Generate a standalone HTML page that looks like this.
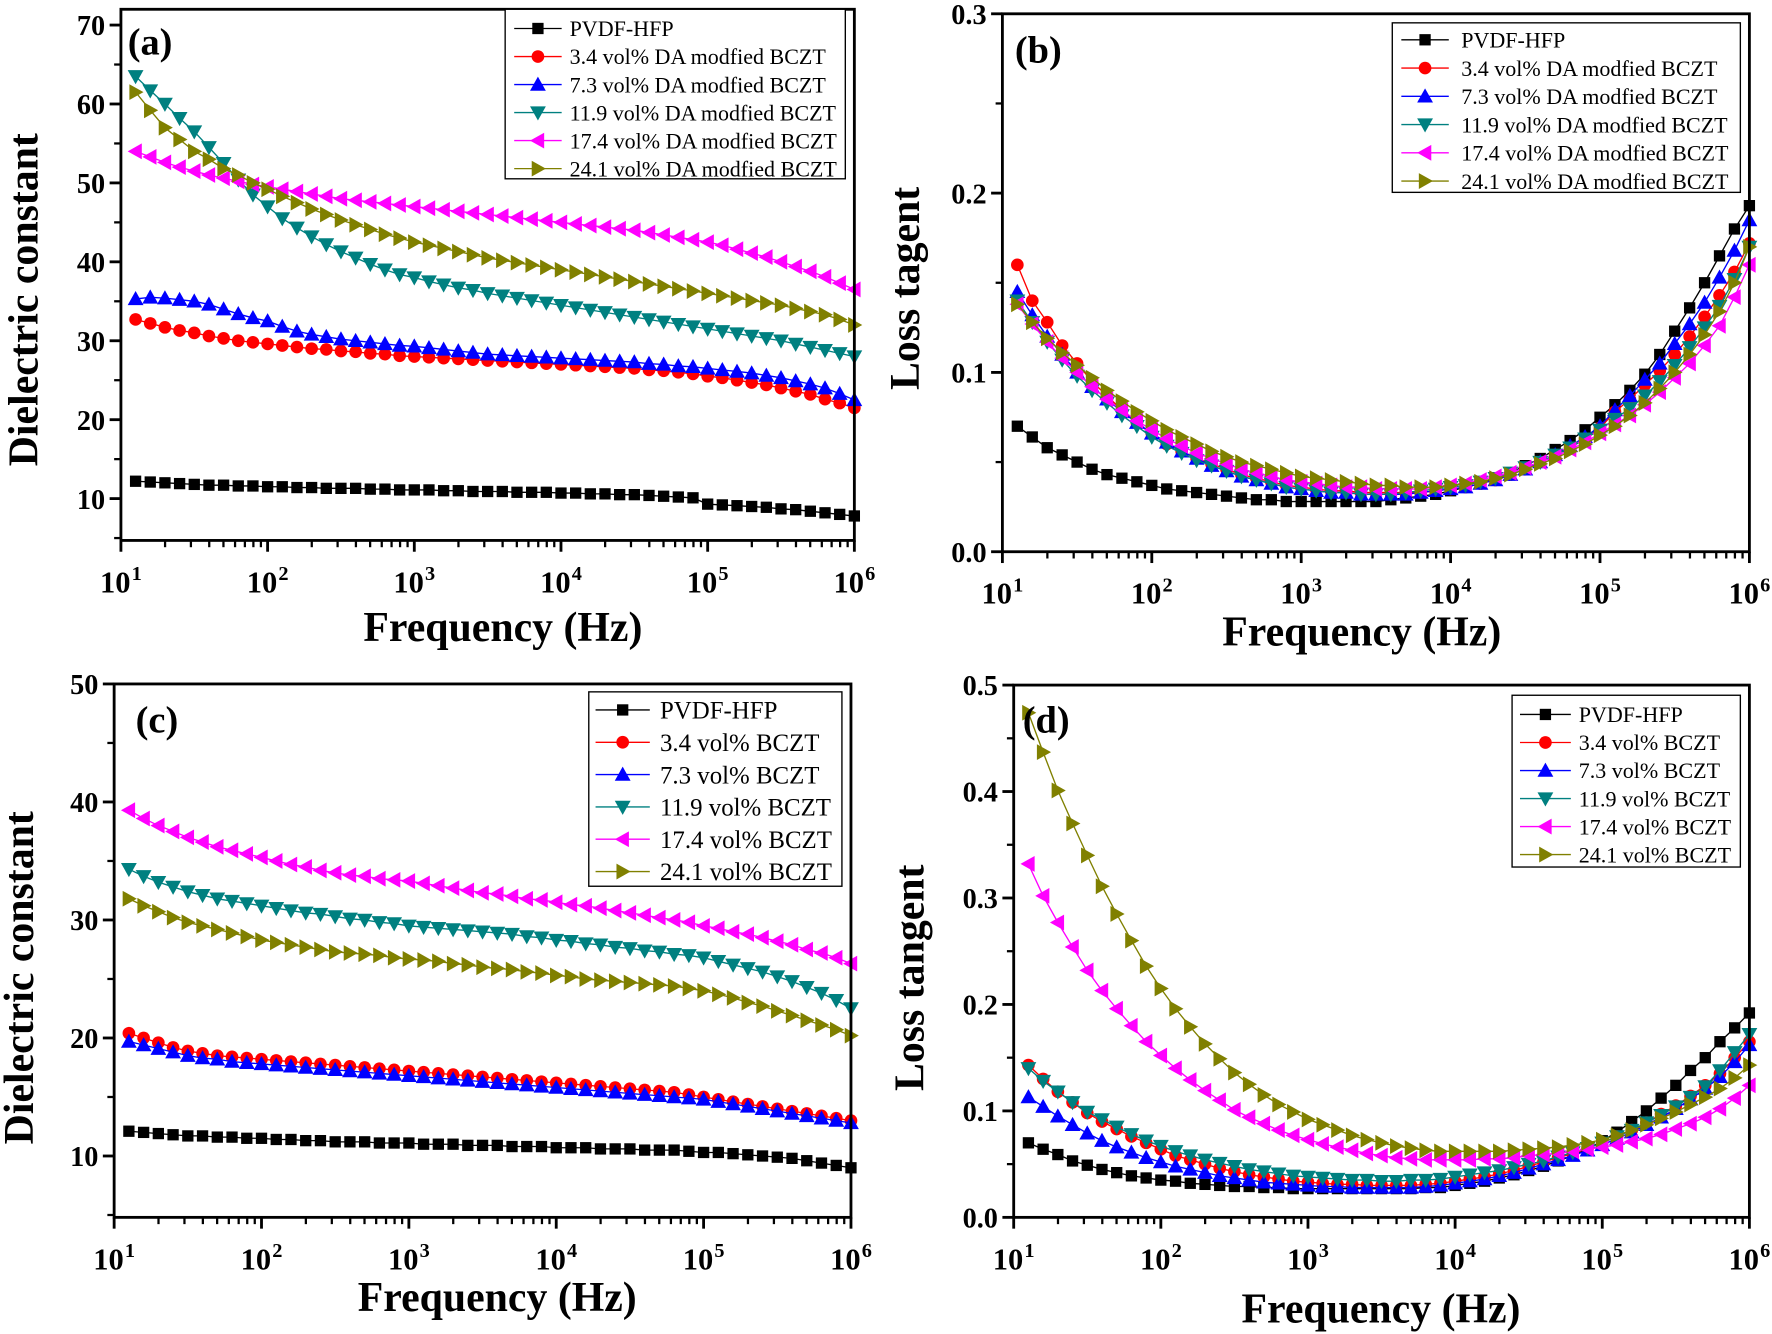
<!DOCTYPE html>
<html><head><meta charset="utf-8"><style>
html,body{margin:0;padding:0;background:#fff;}
svg{display:block;}
text{font-family:"Liberation Serif",serif;}
</style></head><body>
<svg id="fig" width="1772" height="1334" viewBox="0 0 1568 1180" xmlns="http://www.w3.org/2000/svg"></svg>
<script>
const logFreq = [1.1,1.2,1.3,1.4,1.5,1.6,1.7,1.8,1.9,2.0,2.1,2.2,2.3,2.4,2.5,2.6,2.7,2.8,2.9,3.0,3.1,3.2,3.3,3.4,3.5,3.6,3.7,3.8,3.9,4.0,4.1,4.2,4.3,4.4,4.5,4.6,4.7,4.8,4.9,5.0,5.1,5.2,5.3,5.4,5.5,5.6,5.7,5.8,5.9,6.0];
const xTickExps = [1,2,3,4,5,6];
const colors = ["#000000","#ff0000","#0000ff","#008080","#ff00ff","#808000"];
const markers = ["square","circle","up","down","left","right"];
const legendA = ["PVDF-HFP","3.4 vol% DA modfied BCZT","7.3 vol% DA modfied BCZT","11.9 vol% DA modfied BCZT","17.4 vol% DA modfied BCZT","24.1 vol% DA modfied BCZT"];
const legendC = ["PVDF-HFP","3.4 vol% BCZT","7.3 vol% BCZT","11.9 vol% BCZT","17.4 vol% BCZT","24.1 vol% BCZT"];
const legendD = ["PVDF-HFP","3.4 vol%  BCZT","7.3 vol%  BCZT","11.9 vol% BCZT","17.4 vol% BCZT","24.1 vol% BCZT"];
const yTicksA = [10,20,30,40,50,60,70];
const yTicksB = [0.0,0.1,0.2,0.3];
const yTicksC = [10,20,30,40,50];
const yTicksD = [0.0,0.1,0.2,0.3,0.4,0.5];

const a_pvdf = [12.2,12.1,12.0,11.9,11.8,11.7,11.7,11.6,11.6,11.5,11.5,11.4,11.4,11.3,11.3,11.3,11.2,11.2,11.1,11.1,11.1,11.0,11.0,10.9,10.9,10.9,10.8,10.8,10.8,10.7,10.7,10.6,10.6,10.5,10.5,10.4,10.3,10.2,10.1,9.3,9.2,9.1,9.0,8.9,8.7,8.6,8.4,8.2,8.0,7.8];
const a_34 = [32.7,32.2,31.7,31.3,31.0,30.6,30.3,30.0,29.8,29.6,29.4,29.2,29.0,28.9,28.7,28.6,28.4,28.3,28.1,28.0,27.9,27.8,27.7,27.6,27.5,27.4,27.3,27.2,27.1,27.0,26.9,26.8,26.7,26.6,26.5,26.3,26.2,26.0,25.8,25.5,25.3,25.0,24.7,24.4,24.0,23.6,23.2,22.6,22.1,21.5];
const a_73 = [35.3,35.5,35.4,35.2,35.0,34.6,34.0,33.4,32.9,32.5,31.8,31.2,30.8,30.5,30.2,30.0,29.8,29.6,29.4,29.3,29.1,28.9,28.7,28.5,28.3,28.2,28.1,28.0,27.9,27.8,27.7,27.6,27.5,27.4,27.3,27.1,27.0,26.8,26.7,26.5,26.3,26.1,25.9,25.6,25.3,24.9,24.5,24.0,23.3,22.5];
const a_119 = [63.5,61.7,60.0,58.2,56.5,54.5,52.5,50.4,48.5,47.0,45.5,44.3,43.2,42.2,41.3,40.5,39.7,39.0,38.4,38.0,37.5,37.1,36.7,36.4,36.0,35.7,35.4,35.1,34.8,34.5,34.2,33.9,33.6,33.3,33.0,32.7,32.4,32.1,31.8,31.5,31.2,30.9,30.6,30.3,30.0,29.6,29.2,28.8,28.4,28.0];
const a_174 = [54.0,53.3,52.6,52.0,51.5,51.0,50.6,50.2,49.8,49.5,49.2,48.9,48.6,48.3,48.0,47.8,47.6,47.4,47.2,47.0,46.8,46.6,46.4,46.2,46.0,45.8,45.6,45.4,45.2,45.0,44.8,44.6,44.4,44.2,44.0,43.7,43.4,43.1,42.8,42.5,42.1,41.6,41.1,40.6,40.0,39.4,38.8,38.1,37.3,36.5];
const a_241 = [61.5,59.2,57.0,55.5,54.0,53.0,51.8,51.0,50.0,49.2,48.3,47.5,46.7,46.0,45.3,44.7,44.1,43.5,43.0,42.5,42.1,41.7,41.3,40.9,40.5,40.2,39.9,39.6,39.3,39.0,38.7,38.4,38.1,37.8,37.5,37.2,36.9,36.6,36.3,36.0,35.7,35.4,35.1,34.8,34.5,34.1,33.7,33.3,32.7,32.0];

const b_pvdf = [.070,.064,.058,.054,.050,.046,.043,.041,.039,.037,.035,.034,.033,.032,.031,.030,.029,.029,.028,.028,.028,.028,.028,.028,.028,.029,.030,.031,.032,.034,.036,.038,.041,.044,.048,.052,.057,.062,.068,.075,.082,.090,.099,.110,.123,.136,.150,.165,.180,.193];
const b_34 = [.160,.140,.128,.115,.105,.095,.087,.079,.072,.066,.060,.056,.052,.049,.046,.043,.041,.039,.037,.036,.035,.034,.034,.033,.033,.033,.033,.033,.034,.035,.036,.038,.040,.043,.046,.050,.054,.058,.063,.069,.078,.085,.093,.101,.110,.120,.131,.143,.156,.172];
const b_73 = [.145,.132,.120,.110,.100,.092,.085,.078,.072,.066,.061,.056,.052,.048,.045,.042,.040,.038,.036,.035,.034,.033,.033,.032,.032,.032,.032,.033,.034,.035,.036,.038,.040,.043,.046,.050,.054,.059,.064,.070,.079,.087,.096,.105,.116,.127,.139,.153,.168,.185];
const b_119 = [.140,.128,.117,.107,.098,.090,.083,.076,.070,.064,.059,.055,.051,.048,.045,.042,.040,.038,.036,.035,.034,.033,.033,.032,.032,.032,.033,.034,.035,.036,.037,.039,.041,.044,.047,.050,.054,.058,.063,.068,.074,.080,.087,.095,.104,.114,.125,.137,.152,.170];
const b_174 = [.138,.127,.117,.108,.100,.092,.085,.079,.073,.068,.063,.059,.055,.052,.049,.046,.044,.042,.040,.039,.038,.037,.036,.036,.035,.035,.035,.035,.036,.037,.038,.040,.042,.044,.047,.050,.053,.057,.061,.066,.071,.076,.082,.089,.097,.105,.115,.126,.142,.160];
const b_241 = [.138,.128,.119,.111,.104,.097,.090,.084,.078,.073,.068,.064,.060,.056,.053,.050,.048,.046,.044,.042,.041,.040,.039,.038,.037,.037,.036,.036,.036,.037,.038,.039,.041,.043,.046,.049,.052,.056,.060,.065,.070,.076,.083,.091,.100,.110,.121,.134,.150,.170];

const c_pvdf = [12.1,12.0,11.9,11.8,11.7,11.7,11.6,11.6,11.5,11.5,11.4,11.4,11.3,11.3,11.2,11.2,11.2,11.1,11.1,11.1,11.0,11.0,11.0,10.9,10.9,10.9,10.8,10.8,10.8,10.7,10.7,10.7,10.6,10.6,10.6,10.5,10.5,10.5,10.4,10.3,10.3,10.2,10.1,10.0,9.9,9.8,9.6,9.4,9.2,9.0];
const c_34 = [20.4,20.0,19.6,19.2,18.9,18.7,18.5,18.4,18.3,18.2,18.1,18.0,17.9,17.8,17.7,17.6,17.5,17.4,17.3,17.2,17.1,17.0,16.9,16.8,16.7,16.6,16.5,16.4,16.3,16.2,16.1,16.0,15.9,15.8,15.7,15.6,15.5,15.4,15.2,15.0,14.8,14.6,14.4,14.2,14.0,13.8,13.6,13.4,13.2,13.0];
const c_73 = [19.7,19.4,19.1,18.8,18.5,18.3,18.2,18.0,17.9,17.8,17.7,17.6,17.5,17.4,17.3,17.2,17.1,17.0,16.9,16.8,16.7,16.6,16.5,16.4,16.3,16.2,16.1,16.0,15.9,15.8,15.7,15.6,15.5,15.4,15.3,15.2,15.1,15.0,14.9,14.8,14.6,14.4,14.2,14.0,13.8,13.6,13.4,13.2,13.0,12.8];
const c_119 = [34.3,33.7,33.2,32.8,32.4,32.1,31.8,31.6,31.4,31.2,31.0,30.8,30.6,30.5,30.3,30.1,30.0,29.8,29.7,29.5,29.4,29.3,29.2,29.1,29.0,28.9,28.8,28.6,28.5,28.3,28.2,28.0,27.9,27.7,27.6,27.4,27.3,27.1,27.0,26.8,26.5,26.2,25.9,25.6,25.2,24.8,24.3,23.8,23.2,22.5];
const c_174 = [39.3,38.6,38.0,37.5,37.0,36.6,36.2,35.9,35.6,35.3,35.0,34.7,34.5,34.2,34.0,33.8,33.7,33.5,33.4,33.3,33.1,32.9,32.7,32.5,32.3,32.2,32.0,31.8,31.7,31.5,31.3,31.2,31.0,30.8,30.6,30.4,30.2,30.0,29.8,29.5,29.3,29.0,28.8,28.5,28.2,27.9,27.5,27.2,26.8,26.3];
const c_241 = [31.8,31.2,30.7,30.2,29.8,29.5,29.2,28.9,28.6,28.3,28.1,27.9,27.7,27.5,27.3,27.2,27.1,27.0,26.8,26.7,26.6,26.5,26.3,26.2,26.0,25.9,25.8,25.6,25.5,25.3,25.2,25.0,24.9,24.8,24.7,24.6,24.5,24.4,24.2,24.0,23.7,23.4,23.0,22.7,22.3,21.9,21.5,21.1,20.7,20.2];

const d_pvdf = [.070,.064,.059,.053,.049,.045,.042,.039,.037,.035,.034,.032,.031,.030,.029,.029,.028,.028,.027,.027,.027,.027,.027,.027,.027,.027,.027,.028,.028,.030,.032,.034,.037,.040,.044,.048,.053,.058,.064,.072,.080,.090,.100,.112,.124,.138,.150,.165,.178,.192];
const d_34 = [.143,.130,.118,.108,.098,.090,.083,.076,.070,.064,.058,.054,.050,.046,.043,.040,.038,.036,.034,.033,.032,.031,.031,.030,.030,.030,.030,.031,.032,.034,.036,.038,.041,.044,.048,.052,.056,.060,.065,.070,.076,.082,.089,.097,.105,.114,.124,.135,.150,.165];
const d_73 = [.113,.104,.095,.087,.079,.072,.066,.061,.056,.052,.048,.045,.042,.039,.037,.035,.033,.032,.031,.030,.029,.029,.028,.028,.028,.028,.028,.029,.030,.032,.034,.036,.039,.042,.046,.050,.054,.058,.063,.068,.074,.080,.087,.094,.102,.111,.121,.132,.146,.162];
const d_119 = [.140,.128,.118,.108,.099,.092,.085,.078,.072,.067,.062,.058,.054,.051,.048,.045,.043,.041,.039,.038,.037,.036,.035,.035,.034,.034,.035,.035,.036,.038,.040,.042,.044,.047,.050,.053,.057,.061,.065,.070,.076,.082,.089,.096,.104,.113,.123,.138,.155,.172];
const d_174 = [.332,.302,.277,.254,.232,.213,.196,.180,.165,.152,.140,.129,.119,.110,.101,.094,.088,.082,.077,.073,.069,.066,.063,.060,.058,.056,.055,.054,.054,.054,.054,.055,.055,.056,.058,.059,.060,.062,.064,.066,.068,.071,.074,.078,.083,.088,.094,.102,.112,.124];
const d_241 = [.474,.437,.401,.370,.340,.311,.285,.260,.236,.215,.196,.179,.163,.149,.136,.125,.115,.106,.099,.092,.087,.082,.077,.073,.070,.067,.065,.063,.062,.062,.062,.062,.062,.063,.064,.065,.066,.068,.070,.073,.077,.082,.087,.093,.099,.106,.113,.121,.131,.143];

const NS = "http://www.w3.org/2000/svg";
const svg = document.getElementById('fig');
function el(tag, attrs, parent) {
  const e = document.createElementNS(NS, tag);
  for (const k in attrs) e.setAttribute(k, attrs[k]);
  (parent || svg).appendChild(e);
  return e;
}
function marker(g, type, x, y, c) {
  let m;
  const s = 6;
  if (type === "square") m = el('rect', {x:x-5,y:y-5,width:10,height:10,fill:c}, g);
  else if (type === "circle") m = el('circle', {cx:x,cy:y,r:5.6,fill:c}, g);
  else {
    let p;
    if (type === "up") p = [[x,y-s-1],[x-s-1,y+s-0.5],[x+s+1,y+s-0.5]];
    else if (type === "down") p = [[x,y+s+1],[x-s-1,y-s+0.5],[x+s+1,y-s+0.5]];
    else if (type === "left") p = [[x-s-1,y],[x+s-0.5,y-s-1],[x+s-0.5,y+s+1]];
    else p = [[x+s+1,y],[x-s+0.5,y-s-1],[x-s+0.5,y+s+1]];
    m = el('polygon', {points:p.map(q=>q.join(',')).join(' '), fill:c}, g);
  }
  
  
  return m;
}

function panel(cfg) {
  const g = el('g', {});
  
  
  const xs = v => cfg.L + (v - 1) / 5 * (cfg.R - cfg.L);
  const ys = v => cfg.B - (v - cfg.ymin) / (cfg.ymax - cfg.ymin) * (cfg.B - cfg.T);
  cfg.series.forEach((s, i) => {
    const sg = el('g', {}, g);
    
    
    const pts = s.map((v, j) => xs(logFreq[j]).toFixed(1) + ',' + ys(v).toFixed(1)).join(' ');
    el('polyline', {points:pts, fill:'none', stroke:colors[i], 'stroke-width':1.2}, sg);
    s.forEach((v, j) => marker(sg, markers[i], xs(logFreq[j]), ys(v), colors[i]));
  });
  const fr = el('rect', {x:cfg.L,y:cfg.T,width:cfg.R-cfg.L,height:cfg.B-cfg.T,fill:'none',stroke:'#000','stroke-width':2.5}, g);
  
  
  const xa = el('g', {}, g);
  
  
  xTickExps.forEach(e => {
    const x = xs(e);
    el('line', {x1:x,y1:cfg.B,x2:x,y2:cfg.B+10,stroke:'#000','stroke-width':2.5}, xa);
    if (e < 6) for (let k = 2; k <= 9; k++) {
      const xm = xs(e + Math.log10(k));
      el('line', {x1:xm,y1:cfg.B,x2:xm,y2:cfg.B+6,stroke:'#000','stroke-width':2}, xa);
    }
    const t = el('text', {x:x,y:cfg.B+46,'font-size':27,'font-weight':'bold','text-anchor':'middle'}, xa);
    
    
    t.textContent = '10';
    const sp = el('tspan', {dx:1,dy:-11,'font-size':18}, t);
    sp.textContent = String(e);
  });
  const ya = el('g', {}, g);
  
  
  cfg.yticks.forEach((v, i) => {
    const y = ys(v);
    el('line', {x1:cfg.L-10,y1:y,x2:cfg.L,y2:y,stroke:'#000','stroke-width':2.5}, ya);
    const t = el('text', {x:cfg.L-14,y:y+9,'font-size':25,'font-weight':'bold','text-anchor':'end'}, ya);
    
    
    t.textContent = cfg.fmt(v);
  });
  const step = cfg.yticks[1] - cfg.yticks[0];
  for (let v = cfg.yticks[0] - step/2; v < cfg.ymax; v += step) {
    if (v < cfg.ymin - 1e-9) continue;
    const y = ys(v);
    el('line', {x1:cfg.L-6,y1:y,x2:cfg.L,y2:y,stroke:'#000','stroke-width':2}, ya);
  }
  const xt = el('text', {x:cfg.xtx,y:cfg.xty,'font-size':37,'font-weight':'bold','text-anchor':'middle'}, g);
  
  
  xt.textContent = 'Frequency (Hz)';
  const yt = el('text', {x:0,y:0,'font-size':37,'font-weight':'bold','text-anchor':'middle',transform:`translate(${cfg.ytx},${cfg.yty}) rotate(-90)`}, g);
  
  
  yt.textContent = cfg.ytitle;
  const pl = el('text', {x:cfg.plx,y:cfg.ply,'font-size':34,'font-weight':'bold'}, g);
  
  
  pl.textContent = cfg.label;
  const lg = el('g', {}, g);
  
  
  const lb = cfg.lbox;
  el('rect', {x:lb.x,y:lb.y,width:lb.w,height:lb.h,fill:'#fff',stroke:'#000','stroke-width':1.2}, lg);
  cfg.legend.forEach((name, i) => {
    const ey = lb.r0 + i * lb.dy;
    const eg = el('g', {}, lg);
    
    
    el('line', {x1:lb.lx,y1:ey,x2:lb.lx+lb.lw,y2:ey,stroke:colors[i],'stroke-width':1.2}, eg);
    marker(eg, markers[i], lb.lx + lb.lw/2, ey, colors[i]);
    const t = el('text', {x:lb.tx,y:ey+lb.fs*0.35,'font-size':lb.fs}, eg);
    t.textContent = name;
  });
}

const f0 = v => String(v);
const f1 = v => v.toFixed(1);
panel({name:'panel-a', L:107,R:756,T:8,B:478, ymin:4.7, ymax:72.0, yticks:yTicksA, fmt:f0,
  series:[a_pvdf,a_34,a_73,a_119,a_174,a_241], legend:legendA,
  xtx:445, xty:567, ytx:33, yty:265, ytitle:'Dielectric constant', label:'(a)', plx:113, ply:48,
  lbox:{x:447,y:8,w:301,h:150,r0:25,dy:24.8,lx:455,lw:42,tx:504,fs:19.5}});
panel({name:'panel-b', L:887,R:1548,T:12,B:488, ymin:0, ymax:0.3, yticks:yTicksB, fmt:f1,
  series:[b_pvdf,b_34,b_73,b_119,b_174,b_241], legend:legendA,
  xtx:1205, xty:571, ytx:813, yty:255, ytitle:'Loss tagent', label:'(b)', plx:898, ply:55,
  lbox:{x:1232,y:20,w:308,h:150,r0:35,dy:25,lx:1240,lw:42,tx:1293,fs:19.5}});
panel({name:'panel-c', L:101,R:753,T:605,B:1077, ymin:4.8, ymax:50, yticks:yTicksC, fmt:f0,
  series:[c_pvdf,c_34,c_73,c_119,c_174,c_241], legend:legendC,
  xtx:440, xty:1160, ytx:29, yty:865, ytitle:'Dielectric constant', label:'(c)', plx:120, ply:648,
  lbox:{x:521,y:612,w:224,h:172,r0:628,dy:28.6,lx:527,lw:48,tx:584,fs:22}});
panel({name:'panel-d', L:897,R:1548,T:606,B:1077, ymin:0, ymax:0.5, yticks:yTicksD, fmt:f1,
  series:[d_pvdf,d_34,d_73,d_119,d_174,d_241], legend:legendD,
  xtx:1222, xty:1170, ytx:817, yty:865, ytitle:'Loss tangent', label:'(d)', plx:905, ply:648,
  lbox:{x:1338,y:615,w:202,h:152,r0:632,dy:24.8,lx:1345,lw:45,tx:1397,fs:19.5}});
</script>
</body></html>
